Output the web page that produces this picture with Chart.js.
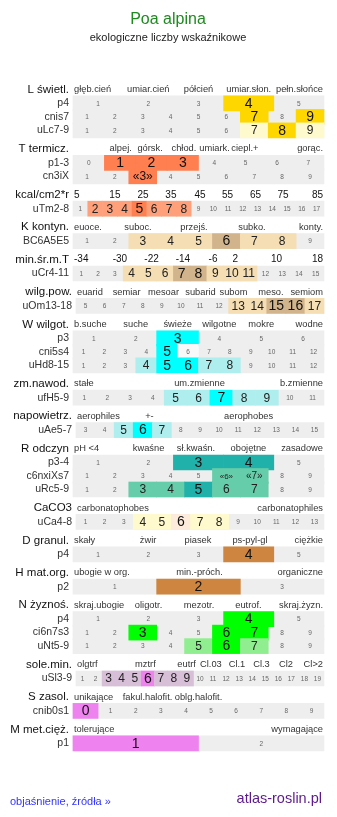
<!DOCTYPE html>
<html>
<head>
<meta charset="utf-8">
<title>Poa alpina</title>
<script src="https://cdn.jsdelivr.net/npm/chart.js@4.4.0/dist/chart.umd.min.js"></script>
<style>
body { margin: 0; background: #fff; }
canvas { display: block; }
</style>
</head>
<body>
<canvas id="chart" width="337" height="817"></canvas>
<script>
// groups (header rows)
const groupTitles = ['L świetl.', 'T termicz.', 'kcal/cm2*r', 'K kontyn.', 'min.śr.m.T', 'wilg.pow.', 'W wilgot.', 'zm.nawod.',
  'napowietrz.', 'R odczyn', 'CaCO3', 'D granul.', 'H mat.org.', 'N żyznoś.', 'sole.min.', 'S zasol.', 'M met.cięż.'];
const groupTicks = [
  ['głęb.cień', 'umiar.cień', 'półcień', 'umiar.słon.', 'pełn.słońce'],
  ['alpej.', 'górsk.', 'chłod.', 'umiark.', 'ciepl.+', 'gorąc.'],
  ['5', '15', '25', '35', '45', '55', '65', '75', '85'],
  ['euoce.', 'suboc.', 'przejś.', 'subko.', 'konty.'],
  ['-34', '-30', '-22', '-14', '-6', '2', '10', '18'],
  ['euarid', 'semiar', 'mesoar', 'subarid', 'subom', 'meso.', 'semiom'],
  ['b.suche', 'suche', 'świeże', 'wilgotne', 'mokre', 'wodne'],
  ['stałe', 'um.zmienne', 'b.zmienne'],
  ['aerophiles', '+-', 'aerophobes'],
  ['pH <4', 'kwaśne', 'sł.kwaśn.', 'obojętne', 'zasadowe'],
  ['carbonatophobes', 'carbonatophiles'],
  ['skały', 'żwir', 'piasek', 'ps-pyl-gl', 'ciężkie'],
  ['ubogie w org.', 'min.-próch.', 'organiczne'],
  ['skraj.ubogie', 'oligotr.', 'mezotr.', 'eutrof.', 'skraj.żyzn.'],
  ['olgtrf', 'mztrf', 'eutrf', 'Cl.03', 'Cl.1', 'Cl.3', 'Cl2', 'Cl>2'],
  ['unikające', 'fakul.halofit.', 'oblg.halofit.'],
  ['tolerujące', 'wymagające']
];

// rows
const rowGroup = [0, 0, 0, 1, 1, 2, 3, 4, 5, 6, 6, 6, 7, 8, 9, 9, 9, 10, 11, 12, 13, 13, 13, 14, 15, 16];
const rowNames = ['p4', 'cnis7', 'uLc7-9', 'p1-3', 'cn3iX', 'uTm2-8', 'BC6A5E5', 'uCr4-11', 'uOm13-18', 'p3', 'cni5s4', 'uHd8-15',
  'ufH5-9', 'uAe5-7', 'p3-4', 'c6nxiXs7', 'uRc5-9', 'uCa4-8', 'p4', 'p2', 'p4', 'ci6n7s3', 'uNt5-9', 'uSl3-9', 'cnib0s1', 'p1'];
const rowFirst = [1, 1, 1, 0, 1, 1, 1, 1, 5, 1, 1, 1, 1, 3, 1, 1, 1, 1, 1, 1, 1, 1, 1, 1, 0, 1];
const rowLast = [5, 9, 9, 7, 9, 17, 9, 15, 17, 6, 12, 12, 11, 15, 5, 9, 9, 13, 5, 3, 5, 9, 9, 19, 9, 2];
const rowStrong = [[4], [7, 9], [8], [1, 2, 3], [3], [5], [6], [7, 8], [15, 16], [3], [5], [5, 6], [7], [6], [3, 4], [], [5],
  [6], [4], [2], [4], [3, 6, 7], [6], [6], [0], [1]];
const rowLight = [[], [], [7, 9], [], [], [2, 3, 4, 6, 7, 8], [3, 4, 5, 7, 8], [4, 5, 6, 9, 10, 11], [13, 14, 17], [], [], [4, 7, 8],
  [5, 6, 8, 9], [5, 7], [], [7], [3, 4, 6, 7], [4, 5, 7, 8], [], [], [], [], [5, 7], [3, 4, 5, 7, 8, 9], [], []];
const rowTint = [[], [], [], [], [], [], [], [], [], [], [], [], [], [], [], [6], [], [], [], [], [], [], [], [], [], []];
const rowMarked = [[], [], [], [], [3], [], [], [], [], [], [], [], [], [], [], [6, 7], [], [], [], [], [], [], [], [], [], []];
const rowBlank = [[], [], [], [], [], [], [], [], [], [], [6], [], [], [], [], [], [], [], [], [], [], [], [], [], [], []];

// colours: strong, light
const groupColors = [
  ['#ffd700', '#fffacd'], ['#ff7f50', '#ffa07a'], ['#ff7f50', '#ffa07a'], ['#d2b48c', '#f5deb3'], ['#d2b48c', '#f5deb3'],
  ['#d2b48c', '#f5deb3'], ['#00ffff', '#afeeee'], ['#00ffff', '#afeeee'], ['#00ffff', '#afeeee'], ['#20b2aa', '#66cdaa'],
  ['#fdebdc', '#fffacd'], ['#cd853f', '#cd853f'], ['#cd853f', '#cd853f'], ['#00ff00', '#90ee90'], ['#ee82ee', '#d8bfd8'],
  ['#ee82ee', '#ee82ee'], ['#ee82ee', '#ee82ee']
];
const tickPos = [
  [0, .3, .5, .7, 1], [.19, .307, .442, .564, .685, 1], [0, .167, .279, .39, .506, .616, .727, .837, 1],
  [0, .259, .482, .713, 1], [0, .187, .313, .438, .558, .647, .811, 1], [0, .204, .353, .502, .635, .786, 1],
  [0, .25, .417, .583, .75, 1], [0, .504, 1], [0, .296, .696], [0, .301, .49, .699, 1], [0, 1],
  [0, .299, .498, .705, 1], [0, .504, 1], [0, .301, .502, .699, 1], [0, .28, .446, .544, .649, .748, .847, 1],
  [0, .297, .5], [0, 1]
];
const groupInset = [0, 0, 0, 0, 0, 3, 0, 0, 3, 0, 3, 0, 0, 0, 3, 0, 0];

const GX0 = 73, GW = 251;
const FONT = '"Liberation Sans", Arial, sans-serif';

// vertical layout: 15px per row, 21px for each header line
const rowTop = [];
const groupTop = [];
let yy = 62;
rowGroup.forEach((g, i) => {
  if (i > 0 && g !== rowGroup[i - 1]) yy += 21;
  if (groupTop[g] === undefined) groupTop[g] = yy;
  rowTop.push(yy);
  yy += 15;
});

function gridStart(g) { return groupInset[g] / GW; }
function cellRange(i, v) {
  const s = gridStart(rowGroup[i]);
  const n = rowLast[i] - rowFirst[i] + 1;
  const k = v - rowFirst[i];
  return [s + k / n * (1 - s), s + (k + 1) / n * (1 - s)];
}

// datasets
const bgData = [], cellData = [], cellColors = [];
rowNames.forEach((name, i) => {
  const g = rowGroup[i];
  const yc = rowTop[i] + 7.5;
  bgData.push({ x: [gridStart(g), 1], y: yc });
  for (let v = rowFirst[i]; v <= rowLast[i]; v++) {
    let c = null;
    if (rowStrong[i].includes(v)) c = groupColors[g][0];
    else if (rowLight[i].includes(v) || rowTint[i].includes(v)) c = groupColors[g][1];
    else if (rowBlank[i].includes(v)) c = '#f9f9f9';
    if (c) {
      cellData.push({ x: cellRange(i, v), y: yc });
      cellColors.push(c);
    }
  }
});

const textPlugin = {
  id: 'texts',
  afterDatasetsDraw(chart) {
    const ctx = chart.ctx;
    const xs = chart.scales.x, ys = chart.scales.y;
    const px = f => xs.getPixelForValue(f);
    const py = v => ys.getPixelForValue(v);
    ctx.save();
    ctx.textBaseline = 'middle';

    ctx.textAlign = 'center';
    ctx.fillStyle = '#1f8a1f';
    ctx.font = '16px ' + FONT;
    ctx.fillText('Poa alpina', 168, 20);
    ctx.fillStyle = '#222';
    ctx.font = '11px ' + FONT;
    ctx.fillText('ekologiczne liczby wskaźnikowe', 168, 38);

    groupTitles.forEach((t, g) => {
      const hy = py(groupTop[g] - 8);
      const left = px(gridStart(g));
      const right = px(1);
      ctx.textAlign = 'right';
      ctx.fillStyle = '#111';
      ctx.font = '11.5px ' + FONT;
      ctx.fillText(t, left - 4, hy);
      const numeric = /^-?\d+$/.test(groupTicks[g][0]);
      ctx.font = (numeric ? '10px ' : '9.3px ') + FONT;
      ctx.fillStyle = numeric ? '#111' : '#333';
      ctx.textAlign = 'left';
      groupTicks[g].forEach((lab, j) => {
        const w = ctx.measureText(lab).width;
        const c = left + tickPos[g][j] * (right - left);
        const x0 = Math.min(Math.max(c - w / 2, left + 1), right - 1 - w);
        ctx.fillText(lab, x0, hy);
      });
    });

    rowNames.forEach((name, i) => {
      const g = rowGroup[i];
      const yc = py(rowTop[i] + 7.5);
      ctx.textAlign = 'right';
      ctx.fillStyle = '#333';
      ctx.font = '10.5px ' + FONT;
      ctx.fillText(name, px(gridStart(g)) - 4, yc);
      ctx.textAlign = 'center';
      for (let v = rowFirst[i]; v <= rowLast[i]; v++) {
        const r = cellRange(i, v);
        const cx = (px(r[0]) + px(r[1])) / 2;
        let size = 6.5, col = '#666';
        if (rowStrong[i].includes(v)) { size = 14; col = '#111'; }
        else if (rowLight[i].includes(v)) { size = 12; col = '#222'; }
        else if (rowTint[i].includes(v)) { size = 8; col = '#222'; }
        let txt = String(v);
        if (rowMarked[i].includes(v)) {
          txt = '«' + v + '»';
          if (size > 8) size -= 2;
        }
        ctx.font = size + 'px ' + FONT;
        ctx.fillStyle = col;
        ctx.fillText(txt, cx, yc + 0.5);
      }
    });

    ctx.textAlign = 'left';
    ctx.fillStyle = '#3333ff';
    ctx.font = '11px ' + FONT;
    ctx.fillText('objaśnienie, źródła »', 10, 802);
    ctx.textAlign = 'right';
    ctx.fillStyle = '#5c1a8c';
    ctx.font = '14.5px ' + FONT;
    ctx.fillText('atlas-roslin.pl', 322, 799);
    ctx.restore();
  }
};

new Chart(document.getElementById('chart').getContext('2d'), {
  type: 'bar',
  data: {
    datasets: [
      { label: 'rows', data: bgData, backgroundColor: '#eeeeee', barThickness: 15, borderWidth: 0, grouped: false, order: 2 },
      { label: 'cells', data: cellData, backgroundColor: cellColors, barThickness: 15, borderWidth: 0, grouped: false, order: 1 }
    ]
  },
  options: {
    indexAxis: 'y',
    responsive: false,
    animation: false,
    layout: { padding: 0 },
    scales: {
      x: { type: 'linear', min: -GX0 / GW, max: (337 - GX0) / GW, display: false },
      y: { type: 'linear', min: 0, max: 817, reverse: true, display: false }
    },
    plugins: { legend: { display: false }, tooltip: { enabled: false } }
  },
  plugins: [textPlugin]
});
</script>
</body>
</html>
